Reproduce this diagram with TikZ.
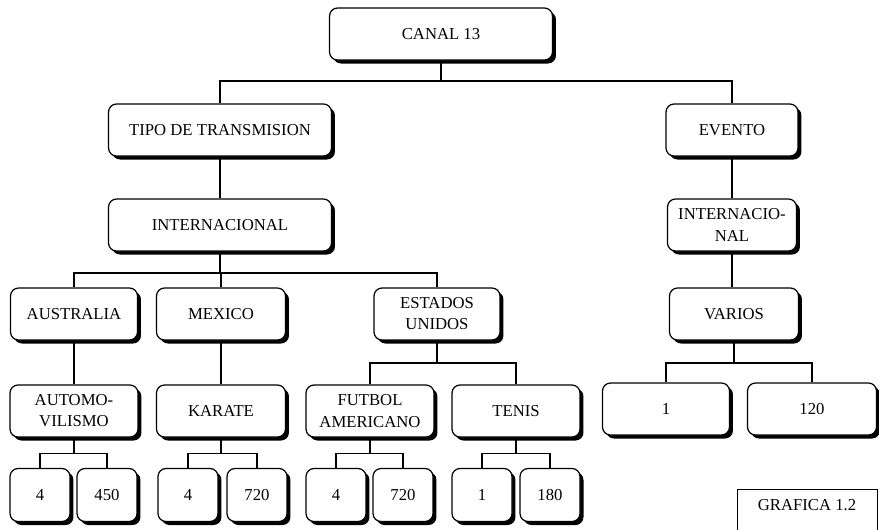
\documentclass[tikz,border=0pt]{standalone}
\usepackage{fontspec}
\setmainfont{Liberation Serif}
\usetikzlibrary{shadows, calc}
\tikzset{
    box/.style={draw=black, line width=0.7pt, fill=white, rounded corners=0.16cm, align=center, inner sep=1pt,
        font=\fontsize{9.5}{12}\selectfont, minimum height=1.04cm,
        drop shadow={shadow xshift=0.07cm, shadow yshift=-0.07cm, fill=black, opacity=1}},
    widebox/.style={box, minimum width=4.46cm},
    midbox/.style={box, minimum width=2.58cm},
    leafbox/.style={box, minimum width=1.2cm, minimum height=1.06cm},
    link/.style={draw=black, line width=0.6pt}
}
\begin{document}
\begin{tikzpicture}[x=0.02cm, y=-0.02cm]
        \useasboundingbox (0,0) rectangle (879,529);

        % Top levels
        \node [widebox] (canal) at (441,34) {CANAL 13};
        \node [widebox] (tipo) at (220,130) {TIPO DE TRANSMISION};
        \node [midbox, minimum width=2.64cm] (evento) at (732,130) {EVENTO};
        \node [widebox] (inter) at (220,225) {INTERNACIONAL};
        \node [midbox] (interev) at (732,225) {INTERNACIO-\\NAL};

        \coordinate (b0) at (441,81);
        \draw [link] (canal.south) -- (b0) -| (tipo.north);
        \draw [link] (b0) -| (evento.north);
        \draw [link] (tipo.south) -- (tipo.south |- inter.north);
        \draw [link] (evento.south) -- (evento.south |- interev.north);

        % Countries
        \node [midbox, minimum width=2.54cm] (aus) at (74,314) {AUSTRALIA};
        \node [midbox] (mex) at (221,314) {MEXICO};
        \node [midbox, minimum width=2.52cm] (usa) at (437,314) {ESTADOS\\UNIDOS};
        \node [midbox] (varios) at (734,314) {VARIOS};

        \coordinate (b1) at (220,273);
        \draw [link] (inter.south) -- (b1) -| (aus.north);
        \draw [link] (b1) -| (usa.north);
        \draw [link] (b1) -| (mex.north);
        \draw [link] (interev.south) -- (interev.south |- varios.north);

        % Sports
        \node [midbox, minimum width=2.56cm] (auto) at (74,411) {AUTOMO-\\VILISMO};
        \node [midbox] (karate) at (221,411) {KARATE};
        \node [midbox, minimum width=2.56cm] (futbol) at (370,411) {FUTBOL\\AMERICANO};
        \node [midbox, minimum width=2.56cm] (tenis) at (516,411) {TENIS};

        \draw [link] (aus.south) -- (aus.south |- auto.north);
        \draw [link] (mex.south) -- (mex.south |- karate.north);
        \coordinate (b2) at (437,363);
        \draw [link] (usa.south) -- (b2) -| (futbol.north);
        \draw [link] (b2) -| (tenis.north);

        % Event totals
        \node [midbox, minimum width=2.54cm] (vone) at (666,409) {1};
        \node [midbox] (vtwenty) at (812,409) {120};
        \coordinate (b3) at (734,363);
        \draw [link] (varios.south) -- (b3) -| (vone.north);
        \draw [link] (b3) -| (vtwenty.north);

        % Leaves
        \node [leafbox] (afour) at (40,495) {4};
        \node [leafbox] (afifty) at (107,495) {450};
        \node [leafbox] (kfour) at (188,495) {4};
        \node [leafbox] (kseven) at (257,495) {720};
        \node [leafbox] (ffour) at (336,495) {4};
        \node [leafbox] (fseven) at (403,495) {720};
        \node [leafbox] (tone) at (482,495) {1};
        \node [leafbox] (teighty) at (550,495) {180};

        \draw [link] (auto.south) -- ++(0,16) coordinate (b4) -| (afour.north);
        \draw [link] (b4) -| (afifty.north);
        \draw [link] (karate.south) -- ++(0,16) coordinate (b5) -| (kfour.north);
        \draw [link] (b5) -| (kseven.north);
        \draw [link] (futbol.south) -- ++(0,16) coordinate (b6) -| (ffour.north);
        \draw [link] (b6) -| (fseven.north);
        \draw [link] (tenis.south) -- ++(0,16) coordinate (b7) -| (tone.north);
        \draw [link] (b7) -| (teighty.north);

        % Caption
        \node [font=\fontsize{9.5}{12}\selectfont] (grafica) at (807,505) {GRAFICA 1.2};
        \draw [line width=0.5pt] ($(grafica)+(-70,32)$) |- ($(grafica)+(70,-16)$) -- ($(grafica)+(70,32)$);
    \end{tikzpicture}
\end{document}
